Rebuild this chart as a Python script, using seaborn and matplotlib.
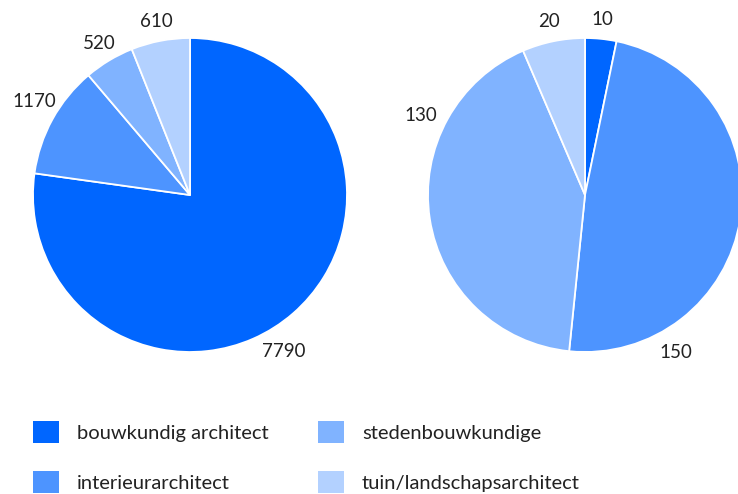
import numpy as np
import matplotlib
matplotlib.use("Agg")
import matplotlib.pyplot as plt
from matplotlib.patches import Patch
import seaborn as sns

sns.set_theme(style="white")
plt.rcParams['font.family'] = ['Lato', 'DejaVu Sans']

categories = ['bouwkundig architect', 'interieurarchitect',
              'stedenbouwkundige', 'tuin/landschapsarchitect']
left_values = [7790, 1170, 520, 610]
right_values = [10, 150, 130, 20]
colors = ['#0066ff', '#4d94ff', '#80b3ff', '#b3d1ff']

fig = plt.figure(figsize=(7.38, 4.94), dpi=100)

W, H = 738, 494
r = 157

def pie_axes(cx, cy):
    return fig.add_axes([(cx - r) / W, (H - cy - r) / H, 2 * r / W, 2 * r / H])

def draw_pie(ax, values, label_angles):
    wedges, texts = ax.pie(values, colors=colors, startangle=90, counterclock=False,
                           radius=1, labels=[str(v) for v in values], labeldistance=1.125,
                           wedgeprops=dict(edgecolor='white', linewidth=1.3),
                           textprops=dict(fontsize=13.5, color='#222222', ha='center', va='center'))
    for t in texts:
        t.set_ha('center')
        t.set_va('center')
    # a few labels sit away from the wedge middle in the original
    for i, ang in label_angles.items():
        d = 1.16
        texts[i].set_position((d * np.cos(np.radians(ang)), d * np.sin(np.radians(ang))))
    ax.set_xlim(-1, 1)
    ax.set_ylim(-1, 1)
    ax.set_aspect('equal')
    ax.axis('off')

ax1 = pie_axes(190, 195)
draw_pie(ax1, left_values, {0: -59, 1: 149})
ax2 = pie_axes(585, 195)
draw_pie(ax2, right_values, {1: -60, 2: 154})

handles = [Patch(facecolor=c, edgecolor='none') for c in colors]
leg_kw = dict(loc='upper left', frameon=False, fontsize=14.5, handlelength=1.29,
              handleheight=1.29, handletextpad=0.9, labelspacing=1.4, borderpad=0,
              borderaxespad=0, labelcolor='#222222')
# one legend per column so each column starts where it does in the original
fig.legend(handles[:2], categories[:2], bbox_to_anchor=(33 / W, 1 - 421 / H), **leg_kw)
fig.legend(handles[2:], categories[2:], bbox_to_anchor=(318 / W, 1 - 421 / H), **leg_kw)

fig.savefig('out.png', dpi=100)
